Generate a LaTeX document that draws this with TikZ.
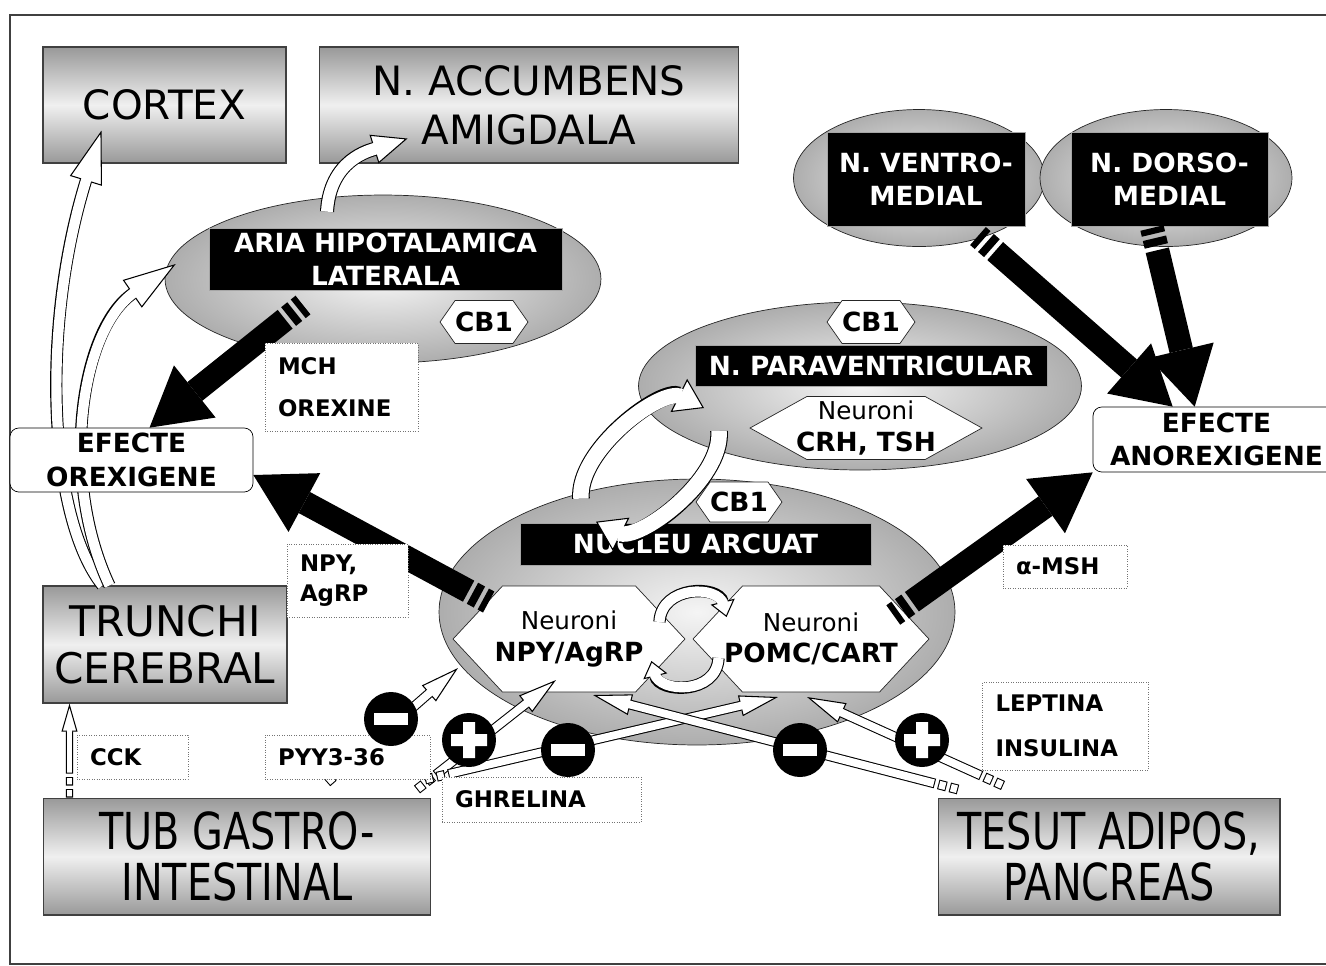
\documentclass[tikz,border=0pt]{standalone}
\usepackage{fontspec}
\setmainfont{DejaVu Sans}
\usepackage{graphicx}
\usepackage{tikz}
\usetikzlibrary{arrows.meta,calc,positioning,shapes.geometric,shapes.symbols}
\newcommand{\narrowtxt}[1]{\scalebox{0.78}[1]{#1}}

\begin{document}
\begin{tikzpicture}[
  x=0.02cm, y=-0.02cm,
  organ/.style={draw=black!75, semithick, top color=black!40, bottom color=black!40,
    middle color=black!6, font=\fontsize{23}{28}\selectfont, align=center, inner sep=0pt},
  nucleus/.style={ellipse, draw=black!85, inner color=black!4, outer color=black!32, inner sep=0pt},
  blabel/.style={fill=black, draw=black!35, text=white, font=\fontsize{15}{19}\selectfont\bfseries,
    align=center, inner sep=0pt},
  hexa/.style={signal, signal to=east and west, draw=black!85, fill=white,
    font=\fontsize{15}{18}\selectfont\bfseries, align=center, inner sep=0pt},
  effect/.style={draw, rounded corners=5pt, fill=white, font=\fontsize{15}{19}\selectfont\bfseries,
    align=center, inner sep=0pt},
  sig/.style={draw=black!55, densely dotted, fill=white, font=\fontsize{13}{17}\selectfont\bfseries,
    align=left, inner xsep=0.26cm, inner ysep=0pt},
  bigarrow/.style={line width=13.6pt,
    dash pattern=on 3.5pt off 2.5pt on 4.5pt off 2.5pt on 2000pt off 0pt,
    -{Triangle[width=38pt, length=33pt, line width=0pt]}},
  wouter/.style={}, winner/.style={},
  wbar/.style n args={3}{line width=#1-1.2pt, white, shorten >=#3-1.5pt, winner,
    preaction={draw=black, line width=#1, shorten >=0pt, wouter,
      -{Triangle[width=#2, length=#3, fill=white, line width=0.6pt]}}},
  wbarst/.style n args={3}{
    wouter/.style={dash pattern=on 4.8pt off 2pt on 4.8pt off 2pt on 2000pt off 0pt},
    winner/.style={dash pattern=on 0pt off 0.6pt on 3.6pt off 3.2pt on 3.6pt off 3.2pt on 2000pt off 0pt},
    wbar={#1}{#2}{#3}},
  sign/.style={circle, fill=black, minimum size=1.08cm, inner sep=0pt},
  minus/.style={sign, path picture={\fill[white]
    ($(path picture bounding box.center)+(-17,-6)$) rectangle ($(path picture bounding box.center)+(17,6)$);}},
  plus/.style={sign, path picture={\fill[white]
    ($(path picture bounding box.center)+(-18,-6)$) rectangle ($(path picture bounding box.center)+(18,6)$)
    ($(path picture bounding box.center)+(-6,-18)$) rectangle ($(path picture bounding box.center)+(6,18)$);}}
]
  \useasboundingbox (0,0) rectangle (1326,965);
  \draw[line width=1.1pt, black!75] (1340,15) -- (10,15) -- (10,964) -- (1340,964);

  % organe
  \node[organ, minimum width=4.86cm, minimum height=2.32cm] (cortex) at (164.5,105) {CORTEX};
  \node[organ, minimum width=8.4cm, minimum height=2.32cm] (accumb) at (529,105) {N. ACCUMBENS\\AMIGDALA};
  \node[organ, font=\fontsize{24}{27}\selectfont, minimum width=4.88cm, minimum height=2.34cm]
    (trunchi) at (165,644.5) {TRUNCHI\\CEREBRAL};
  \node[organ, font=\fontsize{29}{29.5}\selectfont, minimum width=7.76cm, minimum height=2.34cm]
    (tub) at (237,856.5) {\narrowtxt{TUB GASTRO-}\\\narrowtxt{INTESTINAL}};
  \node[organ, font=\fontsize{29}{29.5}\selectfont, minimum width=6.84cm, minimum height=2.34cm]
    (tesut) at (1109,856.5) {\narrowtxt{TESUT ADIPOS,}\\\narrowtxt{PANCREAS}};

  % nuclei hipotalamici
  \node[nucleus, minimum width=8.72cm, minimum height=3.36cm] (lha) at (383,279) {};
  \node[nucleus, minimum width=5.02cm, minimum height=2.74cm] (vmn) at (919,178) {};
  \node[nucleus, minimum width=5.04cm, minimum height=2.74cm] (dmn) at (1166,178) {};
  \node[nucleus, minimum width=8.86cm, minimum height=3.36cm] (pvn) at (860,386) {};
  \node[nucleus, minimum width=10.32cm, minimum height=5.32cm] (arc) at (697,612) {};

  % sageti curbe albe
  \draw[wbar={7pt}{19pt}{30pt}] ($(trunchi.north west)+(60,0)$)
    .. controls +(-53,-66) and +(-62,200) .. ($(cortex.south west)+(59,-33)$);
  \draw[wbar={7pt}{19pt}{30pt}] ($(trunchi.north west)+(67,0)$)
    .. controls +(-50,-106) and +(-96,66) .. ($(lha.west)+(11,-15)$);
  \draw[wbar={8pt}{17pt}{20pt}] ($(lha.north)+(-56,17)$)
    .. controls +(3,-52) and +(-38,12) .. ($(accumb.south west)+(89,-25)$);

  % etichete negre
  \node[blabel, minimum width=7.06cm, minimum height=1.24cm] (lhaname) at (385.5,259) {ARIA HIPOTALAMICA\\LATERALA};
  \node[blabel, minimum width=3.96cm, minimum height=1.88cm] (vmnname) at (926,179) {N. VENTRO-\\MEDIAL};
  \node[blabel, minimum width=3.94cm, minimum height=1.88cm] (dmnname) at (1169.5,179) {N. DORSO-\\MEDIAL};
  \node[blabel, minimum width=7.04cm, minimum height=0.82cm] (pvnname) at (871,365.5) {N. PARAVENTRICULAR};
  \node[blabel, minimum width=7.02cm, minimum height=0.84cm] (arcname) at (695.5,544) {NUCLEU ARCUAT};

  % hexagoane
  \node[hexa, minimum width=1.76cm, minimum height=0.86cm, signal pointer angle=110] (cb1lha) at (484,322) {CB1};
  \node[hexa, minimum width=1.76cm, minimum height=0.86cm, signal pointer angle=110] (cb1pvn) at (871,322) {CB1};
  \node[hexa, minimum width=1.72cm, minimum height=0.8cm, signal pointer angle=110] (cb1arc) at (739,502) {CB1};
  \node[hexa, minimum width=4.64cm, minimum height=1.26cm, signal pointer angle=58]
    (crh) at (866,428) {\makebox[1.9cm]{\fontsize{14}{18}\selectfont\mdseries Neuroni}\\\makebox[1.9cm]{CRH, TSH}};
  \node[hexa, minimum width=4.64cm, minimum height=2.12cm, signal pointer angle=94]
    (npy) at (569,639) {\makebox[2.3cm]{\fontsize{14}{19}\selectfont\mdseries Neuroni}\\\makebox[2.3cm]{NPY/AgRP}};
  \node[hexa, minimum width=4.72cm, minimum height=2.12cm, signal pointer angle=94]
    (pomc) at (811,639) {\makebox[2.3cm]{\fontsize{14}{19}\selectfont\mdseries Neuroni}\\\makebox[2.3cm]{POMC/CART}};

  % bucle intre nuclei
  \draw[wbar={10pt}{21pt}{16pt}] ($(arc.north)+(-116,20)$)
    .. controls +(-4,-49) and +(-42,-21) .. ($(pvn.center)+(-156,22)$);
  \draw[wbar={10pt}{21pt}{16pt}] ($(pvn.center)+(-141,45)$)
    .. controls +(4,49) and +(42,21) .. ($(arc.north)+(-101,43)$);
  \draw[wbar={7pt}{14pt}{9pt}] ($(npy.east)+(-26,-17)$)
    .. controls +(2,-37) and +(-8,-32) .. ($(pomc.west)+(34,-22)$);
  \draw[wbar={7pt}{14pt}{9pt}] ($(pomc.west)+(26,19)$)
    .. controls +(-2,37) and +(8,32) .. ($(npy.east)+(-34,22)$);

  % efecte
  \node[effect, minimum width=4.86cm, minimum height=1.28cm] (orex) at (131.5,460) {EFECTE\\OREXIGENE};
  \node[effect, minimum width=4.94cm, minimum height=1.3cm] (anorex) at (1216.5,439.5) {EFECTE\\ANOREXIGENE};

  % sageti negre
  \draw[bigarrow] ($(lha.center)+(-80,26)$) -- ($(orex.north)+(18,0)$);
  \draw[bigarrow] ($(arc.west)+(50,-10)$) -- ($(orex.east)+(0,15)$);
  \draw[bigarrow] ($(arc.east)+(-62,3)$) -- (anorex.south west);
  \draw[bigarrow] ($(vmn.center)+(59,58)$) -- ($(anorex.north west)+(80,0)$);
  \draw[bigarrow] ($(dmn.center)+(-14,50)$) -- ($(anorex.north west)+(102,0)$);

  % semnale periferice
  \draw[wbarst={4pt}{9pt}{16pt}] ($(tub.north west)+(27,0)$) -- ($(trunchi.south west)+(27,0)$);
  \draw[wbarst={5.6pt}{12pt}{22pt}] ($(tub.north)+(90,-15)$) -- ($(npy.center)+(-111,29)$);
  \draw[wbarst={5.6pt}{12pt}{22pt}] ($(tub.north)+(180,-8)$) -- ($(npy.center)+(-13,41)$);
  \draw[wbarst={5.6pt}{12pt}{22pt}] ($(tub.north)+(188,-18)$) -- ($(pomc.center)+(-33,58)$);
  \draw[wbarst={5.6pt}{12pt}{22pt}] ($(tesut.north)+(-151,-8)$) -- ($(npy.center)+(24,56)$);
  \draw[wbarst={5.6pt}{12pt}{22pt}] ($(tesut.north)+(-106,-12)$) -- ($(pomc.center)+(-4,58)$);

  % mediatori
  \node[sig, text width=2.54cm, minimum height=1.76cm, font=\fontsize{13}{24}\selectfont\bfseries]
    (mch) at (341.5,387) {MCH\\OREXINE};
  \node[sig, text width=1.9cm, minimum height=1.46cm] (npyl) at (347.5,580.5) {NPY,\\AgRP};
  \node[sig, text width=1.7cm, minimum height=0.88cm] (cck) at (132.5,757) {CCK};
  \node[sig, text width=2.78cm, minimum height=0.88cm] (pyy) at (347.5,757) {PYY3-36};
  \node[sig, text width=3.46cm, minimum height=0.9cm] (ghr) at (541.5,799.5) {GHRELINA};
  \node[sig, text width=2.8cm, minimum height=1.76cm, font=\fontsize{13}{25.5}\selectfont\bfseries]
    (lep) at (1065.5,726) {LEPTINA\\INSULINA};
  \node[sig, text width=1.96cm, minimum height=0.86cm] (msh) at (1065,566.5) {α-MSH};

  \node[minus] (inhpyy) at (391,719) {};
  \node[plus] (stimghr) at (469,740) {};
  \node[minus] (inhghr) at (568,750) {};
  \node[minus] (inhlep) at (800,750) {};
  \node[plus] (stimlep) at (922,740) {};
\end{tikzpicture}
\end{document}
